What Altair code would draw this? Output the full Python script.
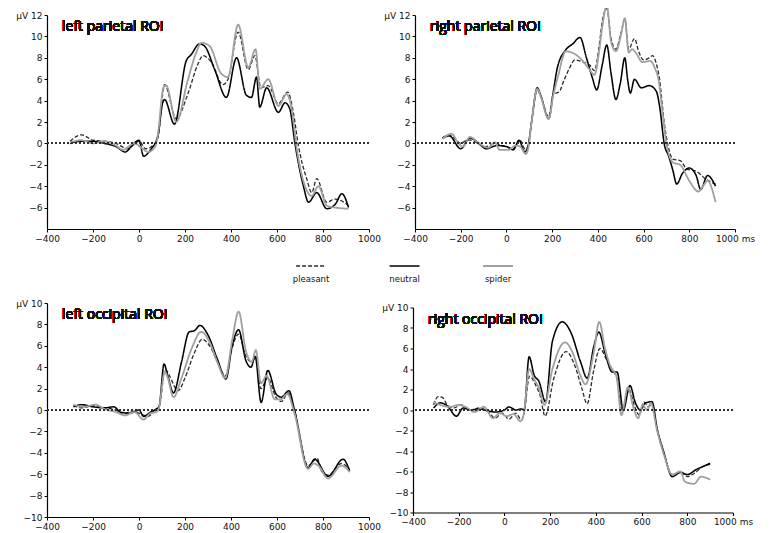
import altair as alt
import pandas as pd

conds = ["pleasant", "neutral", "spider"]

# ---- left parietal ROI : (ms, µV) ----
lp_pleasant = [(-300,0.2),(-250,0.8),(-200,0.3),(-150,0.2),(-100,0.0),(-50,-0.5),(0,0.2),(30,-0.5),(60,-0.2),(82,0.5),(111,5.5),(162,2.3),(212,4.6),(256,7.4),(278,8.2),(314,7.6),(365,5.5),(387,6.0),(431,10.4),(475,6.9),(504,8.2),(530,5.2),(562,5.4),(606,3.7),(646,4.8),(671,2.9),(693,-0.2),(729,-3.3),(751,-4.6),(773,-3.3),(816,-5.5),(853,-5.2),(911,-5.8)]
lp_neutral = [(-300,0.0),(-250,0.2),(-200,0.2),(-150,0.0),(-100,-0.3),(-60,-0.8),(-30,-0.2),(0,0.3),(20,-1.2),(50,-0.6),(82,0.7),(103,3.8),(111,4.1),(154,1.8),(205,7.7),(227,8.3),(263,9.3),(285,9.1),(329,6.9),(380,4.3),(424,8.0),(467,4.5),(489,4.3),(511,6.2),(525,3.4),(555,5.2),(606,2.9),(635,3.8),(656,3.2),(678,0.0),(715,-4.0),(737,-5.5),(773,-4.6),(816,-6.1),(853,-5.7),(882,-4.7),(911,-6.0)]
lp_spider = [(-300,0.1),(-250,0.3),(-200,0.0),(-150,0.2),(-100,-0.2),(-70,-0.6),(-20,0.0),(10,-0.4),(40,-0.8),(70,-0.3),(82,0.8),(106,5.2),(118,5.4),(162,2.0),(212,5.9),(249,8.5),(271,9.4),(307,9.1),(358,6.5),(387,6.2),(431,11.1),(475,7.1),(507,8.8),(525,5.1),(562,6.0),(606,3.5),(642,4.6),(664,3.2),(686,-0.5),(722,-4.0),(751,-4.9),(780,-4.0),(816,-5.8),(853,-6.0),(911,-6.1)]

# ---- right parietal ROI ----
rp_pleasant = [(-280,0.5),(-250,0.8),(-220,0.3),(-200,0.0),(-170,0.3),(-150,0.3),(-120,-0.1),(-90,-0.3),(-50,0.0),(-20,-0.2),(0,-0.3),(30,-0.5),(60,0.3),(80,-0.5),(95,-0.3),(110,2.0),(135,5.0),(150,4.4),(185,2.5),(205,4.6),(230,4.8),(250,5.8),(275,7.0),(300,7.8),(335,7.6),(365,7.3),(385,6.8),(405,9.0),(420,11.5),(439,12.6),(458,9.8),(479,8.8),(500,10.2),(518,11.6),(535,8.8),(560,9.8),(580,8.5),(600,7.8),(625,8.0),(640,8.2),(655,7.5),(670,6.0),(690,2.0),(705,0.0),(730,-1.5),(760,-1.6),(790,-2.4),(830,-2.6),(870,-3.3),(915,-3.8)]
rp_neutral = [(-280,0.5),(-250,0.7),(-200,-0.5),(-160,0.5),(-120,0.0),(-90,-0.5),(-40,-0.2),(0,-0.3),(30,-0.6),(55,0.3),(80,-0.8),(95,-0.2),(110,2.0),(135,5.2),(150,4.5),(185,2.3),(205,4.8),(222,7.0),(258,8.7),(290,9.3),(322,9.9),(350,8.0),(375,6.2),(395,5.0),(418,7.2),(439,9.2),(458,6.5),(479,4.1),(498,5.6),(518,8.0),(530,6.0),(542,4.7),(560,6.0),(590,5.2),(625,5.4),(655,4.9),(672,3.2),(690,0.0),(710,-1.2),(728,-2.5),(745,-3.8),(770,-2.8),(800,-2.3),(830,-3.0),(850,-4.3),(880,-3.0),(915,-4.0)]
rp_spider = [(-280,0.4),(-240,0.9),(-210,0.0),(-190,-0.3),(-160,0.6),(-120,0.0),(-80,-0.4),(-50,0.1),(-30,-0.6),(10,-0.6),(40,-0.2),(60,-0.3),(85,-1.0),(95,-0.5),(110,2.0),(135,5.1),(150,4.4),(185,2.3),(205,4.5),(225,6.2),(260,8.6),(295,8.4),(330,7.8),(360,7.0),(385,6.4),(405,8.5),(420,11.0),(439,12.9),(458,9.5),(479,8.6),(500,10.0),(518,11.7),(535,8.5),(550,8.8),(565,8.5),(595,7.6),(630,7.7),(650,7.0),(665,6.0),(685,2.5),(700,0.0),(730,-1.8),(760,-2.0),(800,-3.5),(840,-4.5),(860,-4.0),(880,-3.5),(915,-5.5)]

# ---- left occipital ROI ----
lo_pleasant = [(-285,0.4),(-250,0.2),(-200,0.4),(-150,0.2),(-100,0.0),(-70,-0.4),(-30,-0.1),(10,-0.4),(40,-0.6),(70,0.0),(87,0.2),(114,3.8),(130,3.3),(170,1.8),(200,3.0),(240,5.3),(275,6.6),(310,5.9),(345,4.3),(375,3.2),(405,5.8),(433,7.1),(465,5.0),(490,4.5),(508,5.0),(530,2.0),(560,3.0),(595,1.2),(620,0.8),(648,1.6),(676,0.0),(735,-5.2),(775,-4.5),(790,-5.6),(822,-6.1),(880,-5.0),(916,-5.6)]
lo_neutral = [(-285,0.3),(-250,0.5),(-200,0.3),(-150,0.2),(-110,0.3),(-80,-0.2),(-40,-0.3),(0,0.0),(20,-0.6),(50,-0.2),(75,0.1),(87,0.3),(109,4.3),(125,3.2),(150,1.6),(185,4.5),(218,7.3),(240,7.4),(265,7.9),(300,7.0),(340,4.8),(378,2.9),(405,6.0),(433,7.5),(465,4.6),(487,4.0),(505,5.0),(531,0.7),(560,3.7),(596,1.5),(618,1.2),(652,1.8),(676,0.0),(735,-5.4),(764,-4.6),(822,-6.2),(887,-4.6),(916,-5.7)]
lo_spider = [(-285,0.5),(-240,0.3),(-190,0.5),(-150,0.1),(-100,-0.2),(-60,-0.5),(-20,-0.2),(20,-0.9),(50,-0.3),(75,-0.2),(87,0.2),(112,3.6),(125,3.0),(150,1.2),(185,3.0),(230,5.8),(270,7.3),(310,6.2),(340,4.5),(375,3.0),(405,6.5),(433,9.2),(465,5.5),(490,4.5),(508,5.6),(530,2.5),(555,3.2),(590,1.0),(615,1.0),(645,1.5),(676,-0.3),(735,-5.5),(760,-5.0),(780,-5.2),(822,-6.4),(880,-5.2),(916,-5.8)]

# ---- right occipital ROI ----
ro_pleasant = [(-310,0.5),(-290,1.3),(-270,1.2),(-250,0.5),(-220,0.2),(-190,0.5),(-150,0.0),(-110,0.2),(-70,-0.2),(-40,-0.8),(-10,-0.3),(20,-0.9),(50,-0.3),(75,-1.0),(86,-0.3),(110,3.3),(135,2.5),(155,1.5),(178,-0.6),(215,3.0),(270,5.7),(310,4.2),(340,2.0),(362,0.6),(390,3.8),(418,6.0),(445,5.0),(470,4.0),(493,3.0),(515,-0.2),(545,2.0),(570,0.3),(590,-0.5),(610,0.8),(630,0.3),(645,0.6),(668,-1.9),(697,-4.2),(734,-6.3),(770,-6.0),(800,-6.5),(830,-6.2),(870,-5.5),(900,-5.3)]
ro_neutral = [(-310,0.2),(-280,0.7),(-250,0.4),(-210,-0.6),(-180,0.2),(-150,0.0),(-110,0.1),(-70,-0.1),(-40,-0.2),(0,0.0),(20,0.3),(50,0.0),(75,0.1),(86,0.0),(108,5.2),(130,3.4),(151,2.8),(180,0.8),(210,6.7),(253,8.6),(290,7.6),(333,4.7),(362,3.1),(392,6.3),(413,7.6),(442,5.4),(472,3.7),(493,3.7),(520,0.0),(549,2.4),(573,0.7),(595,0.0),(617,0.7),(646,0.8),(668,-1.8),(697,-4.1),(734,-6.5),(770,-6.1),(800,-6.3),(840,-5.8),(870,-5.5),(900,-5.2)]
ro_spider = [(-310,0.8),(-280,0.5),(-240,0.3),(-200,0.5),(-170,0.3),(-130,-0.2),(-90,0.3),(-50,-0.8),(-20,-0.3),(10,-0.6),(40,-0.4),(70,-1.1),(86,-0.2),(108,4.0),(130,3.0),(150,2.2),(175,0.5),(210,4.0),(265,6.6),(300,5.5),(330,3.5),(355,2.5),(390,5.5),(415,8.6),(440,6.0),(465,4.2),(490,3.3),(512,-0.5),(540,2.2),(565,0.2),(585,-0.8),(605,0.5),(625,0.0),(640,0.7),(668,-2.0),(697,-4.3),(734,-6.3),(770,-6.0),(790,-7.0),(830,-7.2),(860,-6.5),(900,-6.8)]

panels = {
    "lp": ("left parietal ROI", [lp_pleasant, lp_neutral, lp_spider]),
    "rp": ("right parietal ROI", [rp_pleasant, rp_neutral, rp_spider]),
    "lo": ("left occipital ROI", [lo_pleasant, lo_neutral, lo_spider]),
    "ro": ("right occipital ROI", [ro_pleasant, ro_neutral, ro_spider]),
}
x_ticks = [-400, -200, 0, 200, 400, 600, 800, 1000]
par_y_ticks = [-6, -4, -2, 0, 2, 4, 6, 8, 10, 12]
occ_y_ticks = [-10, -8, -6, -4, -2, 0, 2, 4, 6, 8, 10]

color_scale = alt.Scale(domain=conds, range=["#2a2a2a", "#000000", "#a0a0a0"])
dash_scale = alt.Scale(domain=conds, range=[[4, 2], [1, 0], [1, 0]])
width_scale = alt.Scale(domain=conds, range=[1.3, 1.8, 2.3])
FONT = "DejaVu Sans"


def panel(key, ydom, yticks, ytop, ms_label, w, h):
    title, series = panels[key]
    rows = []
    for c, s in zip(conds, series):
        for i, (t, v) in enumerate(s):
            rows.append({"cond": c, "t": t, "v": v, "i": i})
    df = pd.DataFrame(rows)
    xl = "datum.value == 1000 ? '1000 ms' : datum.label" if ms_label else "datum.label"
    yl = "datum.value == %d ? 'µV %d' : datum.label" % (ytop, ytop)
    x_axis = alt.Axis(values=x_ticks, title=None, grid=False, labelExpr=xl,
                      format="d", labelOverlap=False, labelFlush=False)
    y_axis = alt.Axis(values=yticks, title=None, grid=False, labelExpr=yl,
                      format="d", labelOverlap=False, labelFlush=False)
    y_scale = alt.Scale(domain=ydom, nice=False)
    x = alt.X("t:Q", scale=alt.Scale(domain=[-400, 1000], nice=False), axis=x_axis)
    y = alt.Y("v:Q", scale=y_scale, axis=y_axis)
    lines = alt.Chart(df).mark_line(interpolate="monotone").encode(
        x=x, y=y,
        color=alt.Color("cond:N", scale=color_scale, legend=None),
        strokeDash=alt.StrokeDash("cond:N", scale=dash_scale, legend=None),
        strokeWidth=alt.StrokeWidth("cond:N", scale=width_scale, legend=None),
        order="i:Q",
    )
    zero = alt.Chart(df).mark_rule(color="#333333", strokeDash=[2, 2], strokeWidth=1).encode(
        y=alt.YDatum(0, type="quantitative", scale=y_scale, axis=y_axis))
    label = alt.Chart(df).mark_text(text=title, align="left", baseline="middle",
                                    fontSize=14, font="Open Sans", color="#111111").encode(
        x=alt.value(15), y=alt.value(12))
    return alt.layer(lines, zero, label).properties(width=w, height=h)


tl = panel("lp", [-8, 12], par_y_ticks, 12, False, 322, 214)
tr = panel("rp", [-8, 12], par_y_ticks, 12, True, 320, 214)
bl = panel("lo", [-10, 10], occ_y_ticks, 10, False, 322, 214)
br = panel("ro", [-10, 10], occ_y_ticks, 10, True, 320, 205)

leg_df = pd.DataFrame({"cond": conds, "idx": [0, 1, 2]})
leg_x = alt.Scale(domain=[-2.824, 3.807], nice=False, zero=False)
leg_lines = alt.Chart(leg_df).transform_calculate(
    a="datum.idx - 0.16", b="datum.idx + 0.16"
).mark_rule().encode(
    x=alt.X("a:Q", scale=leg_x, axis=None), x2="b:Q", y=alt.value(8),
    color=alt.Color("cond:N", scale=color_scale, legend=None),
    strokeDash=alt.StrokeDash("cond:N", scale=dash_scale, legend=None),
    strokeWidth=alt.StrokeWidth("cond:N", scale=width_scale, legend=None),
)
leg_text = alt.Chart(leg_df).mark_text(fontSize=8.5, font=FONT, color="#111111", baseline="middle").encode(
    x=alt.X("idx:Q", scale=leg_x, axis=None), y=alt.value(21), text="cond:N")
legend = alt.layer(leg_lines, leg_text).properties(width=620, height=26)

chart = alt.vconcat(
    alt.hconcat(tl, tr, spacing=2),
    legend,
    alt.hconcat(bl, br, spacing=0, center=True),
    spacing=15,
).properties(
    padding={"left": 7, "top": -7, "right": 0, "bottom": 0}
).configure_view(stroke=None).configure_axis(
    domainColor="#000000", tickColor="#000000", tickSize=3, labelFontSize=9,
    labelFont=FONT, labelColor="#111111", labelPadding=2, domainWidth=1.2,
    labelOverlap=False
)

chart.save("out.html", embed_options={"renderer": "svg", "actions": False})
